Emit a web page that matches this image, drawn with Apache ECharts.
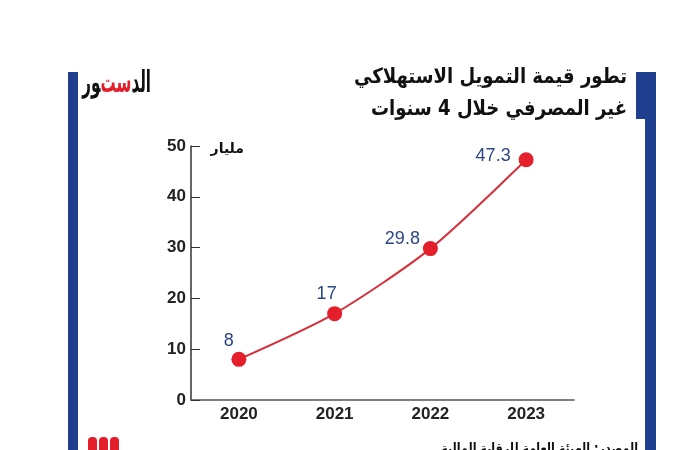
<!DOCTYPE html>
<html>
<head>
<meta charset="utf-8">
<title>تطور قيمة التمويل الاستهلاكي</title>
<script src="https://cdn.jsdelivr.net/npm/echarts@6/dist/echarts.min.js"></script>
<style>
    html, body { margin: 0; padding: 0; background: #fff; }
    #chart { width: 700px; height: 450px; }
</style>
</head>
<body>
<div id="chart"></div>
<script>
// البيانات
var years = ["2020", "2021", "2022", "2023"];
var values = [8, 17, 29.8, 47.3];
var yTicks = [0, 10, 20, 30, 40, 50];

var titleLines = ["تطور قيمة التمويل الاستهلاكي", "غير المصرفي خلال 4 سنوات"];
var unitText = "مليار";
var sourceText = "المصدر: الهيئة العامة للرقابة المالية";

var navy = "#203f8e";
var red = "#e41f2b";
var arFont = "DejaVu Sans";

/**
 * نص عربي مضغوط أفقياً
 */
function arText(x, y, text, size, sx, align) {
    return {
        type: "text",
        x: x,
        y: y,
        scaleX: sx,
        style: {
            text: text,
            fill: "#111",
            fontSize: size,
            fontWeight: "bold",
            fontFamily: arFont,
            align: align || "right",
            verticalAlign: "middle"
        }
    };
}

function initChart(id) {
    var chart = echarts.init(document.getElementById(id));

    // إزاحة كل رقم عن نقطته
    var shifts = [[-10, -18], [-8, -20], [-28, -10], [-33, -4]];
    var points = values.map(function (v, i) {
        return {
            value: v,
            label: { offset: shifts[i] }
        };
    });

    var option = {
        backgroundColor: "#fff",
        animation: false,
        grid: { left: 191, right: 126, top: 146, bottom: 50 },
        xAxis: {
            type: "category",
            data: years,
            boundaryGap: true,
            axisLine: { lineStyle: { color: "#555", width: 1.5 } },
            axisTick: { inside: true, length: 5, lineStyle: { color: "#555" } },
            axisLabel: {
                color: "#222",
                fontSize: 17,
                fontWeight: "bold",
                fontFamily: "Liberation Sans",
                margin: 6
            }
        },
        yAxis: {
            type: "value",
            min: yTicks[0],
            max: yTicks[yTicks.length - 1],
            interval: 10,
            splitLine: { show: false },
            axisLine: { show: true, lineStyle: { color: "#333", width: 1.5 } },
            axisTick: { show: true, inside: true, length: 9, lineStyle: { color: "#333" } },
            axisLabel: {
                color: "#222",
                fontSize: 17,
                fontWeight: "bold",
                fontFamily: "Liberation Sans",
                margin: 5
            }
        },
        series: [
            {
                type: "line",
                data: points,
                smooth: 0.25,
                symbol: "circle",
                symbolSize: 15,
                lineStyle: { color: "#d5303a", width: 2 },
                itemStyle: { color: red },
                label: {
                    show: true,
                    position: "inside",
                    color: "#2c4787",
                    fontSize: 18,
                    fontFamily: "Liberation Sans"
                }
            }
        ],
        graphic: [
            // الشريط الأيسر
            { type: "rect", shape: { x: 68, y: 72, width: 10, height: 378 }, style: { fill: navy } },
            // الشريط الأيمن
            { type: "rect", shape: { x: 636, y: 72, width: 20, height: 47 }, style: { fill: navy } },
            { type: "rect", shape: { x: 645, y: 119, width: 11, height: 331 }, style: { fill: navy } },
            // الشعار
            {
                type: "text",
                x: 151,
                y: 84,
                scaleX: 0.56,
                scaleY: 1.1,
                style: {
                    text: "{k|\u200Dور}{r|ست\u200D}{k|الد}",
                    align: "right",
                    verticalAlign: "middle",
                    rich: {
                        k: { fill: "#111", fontSize: 27, fontWeight: "bold", fontFamily: arFont },
                        r: { fill: red, fontSize: 27, fontWeight: "bold", fontFamily: arFont }
                    }
                }
            },
            // العنوان
            arText(627, 78, titleLines[0], 21, 0.86),
            arText(627, 110, titleLines[1], 21, 0.86),
            // الوحدة
            arText(244, 149, unitText, 14, 1),
            // المصدر
            arText(638, 449, sourceText, 14, 0.8)
        ].concat([88, 99, 110].map(function (x) {
            // أيقونة أسفل اليسار
            return { type: "rect", shape: { x: x, y: 437, width: 9, height: 20, r: [4, 4, 0, 0] }, style: { fill: red } };
        }))
    };
    chart.setOption(option);
}

initChart("chart");
</script>
</body>
</html>
